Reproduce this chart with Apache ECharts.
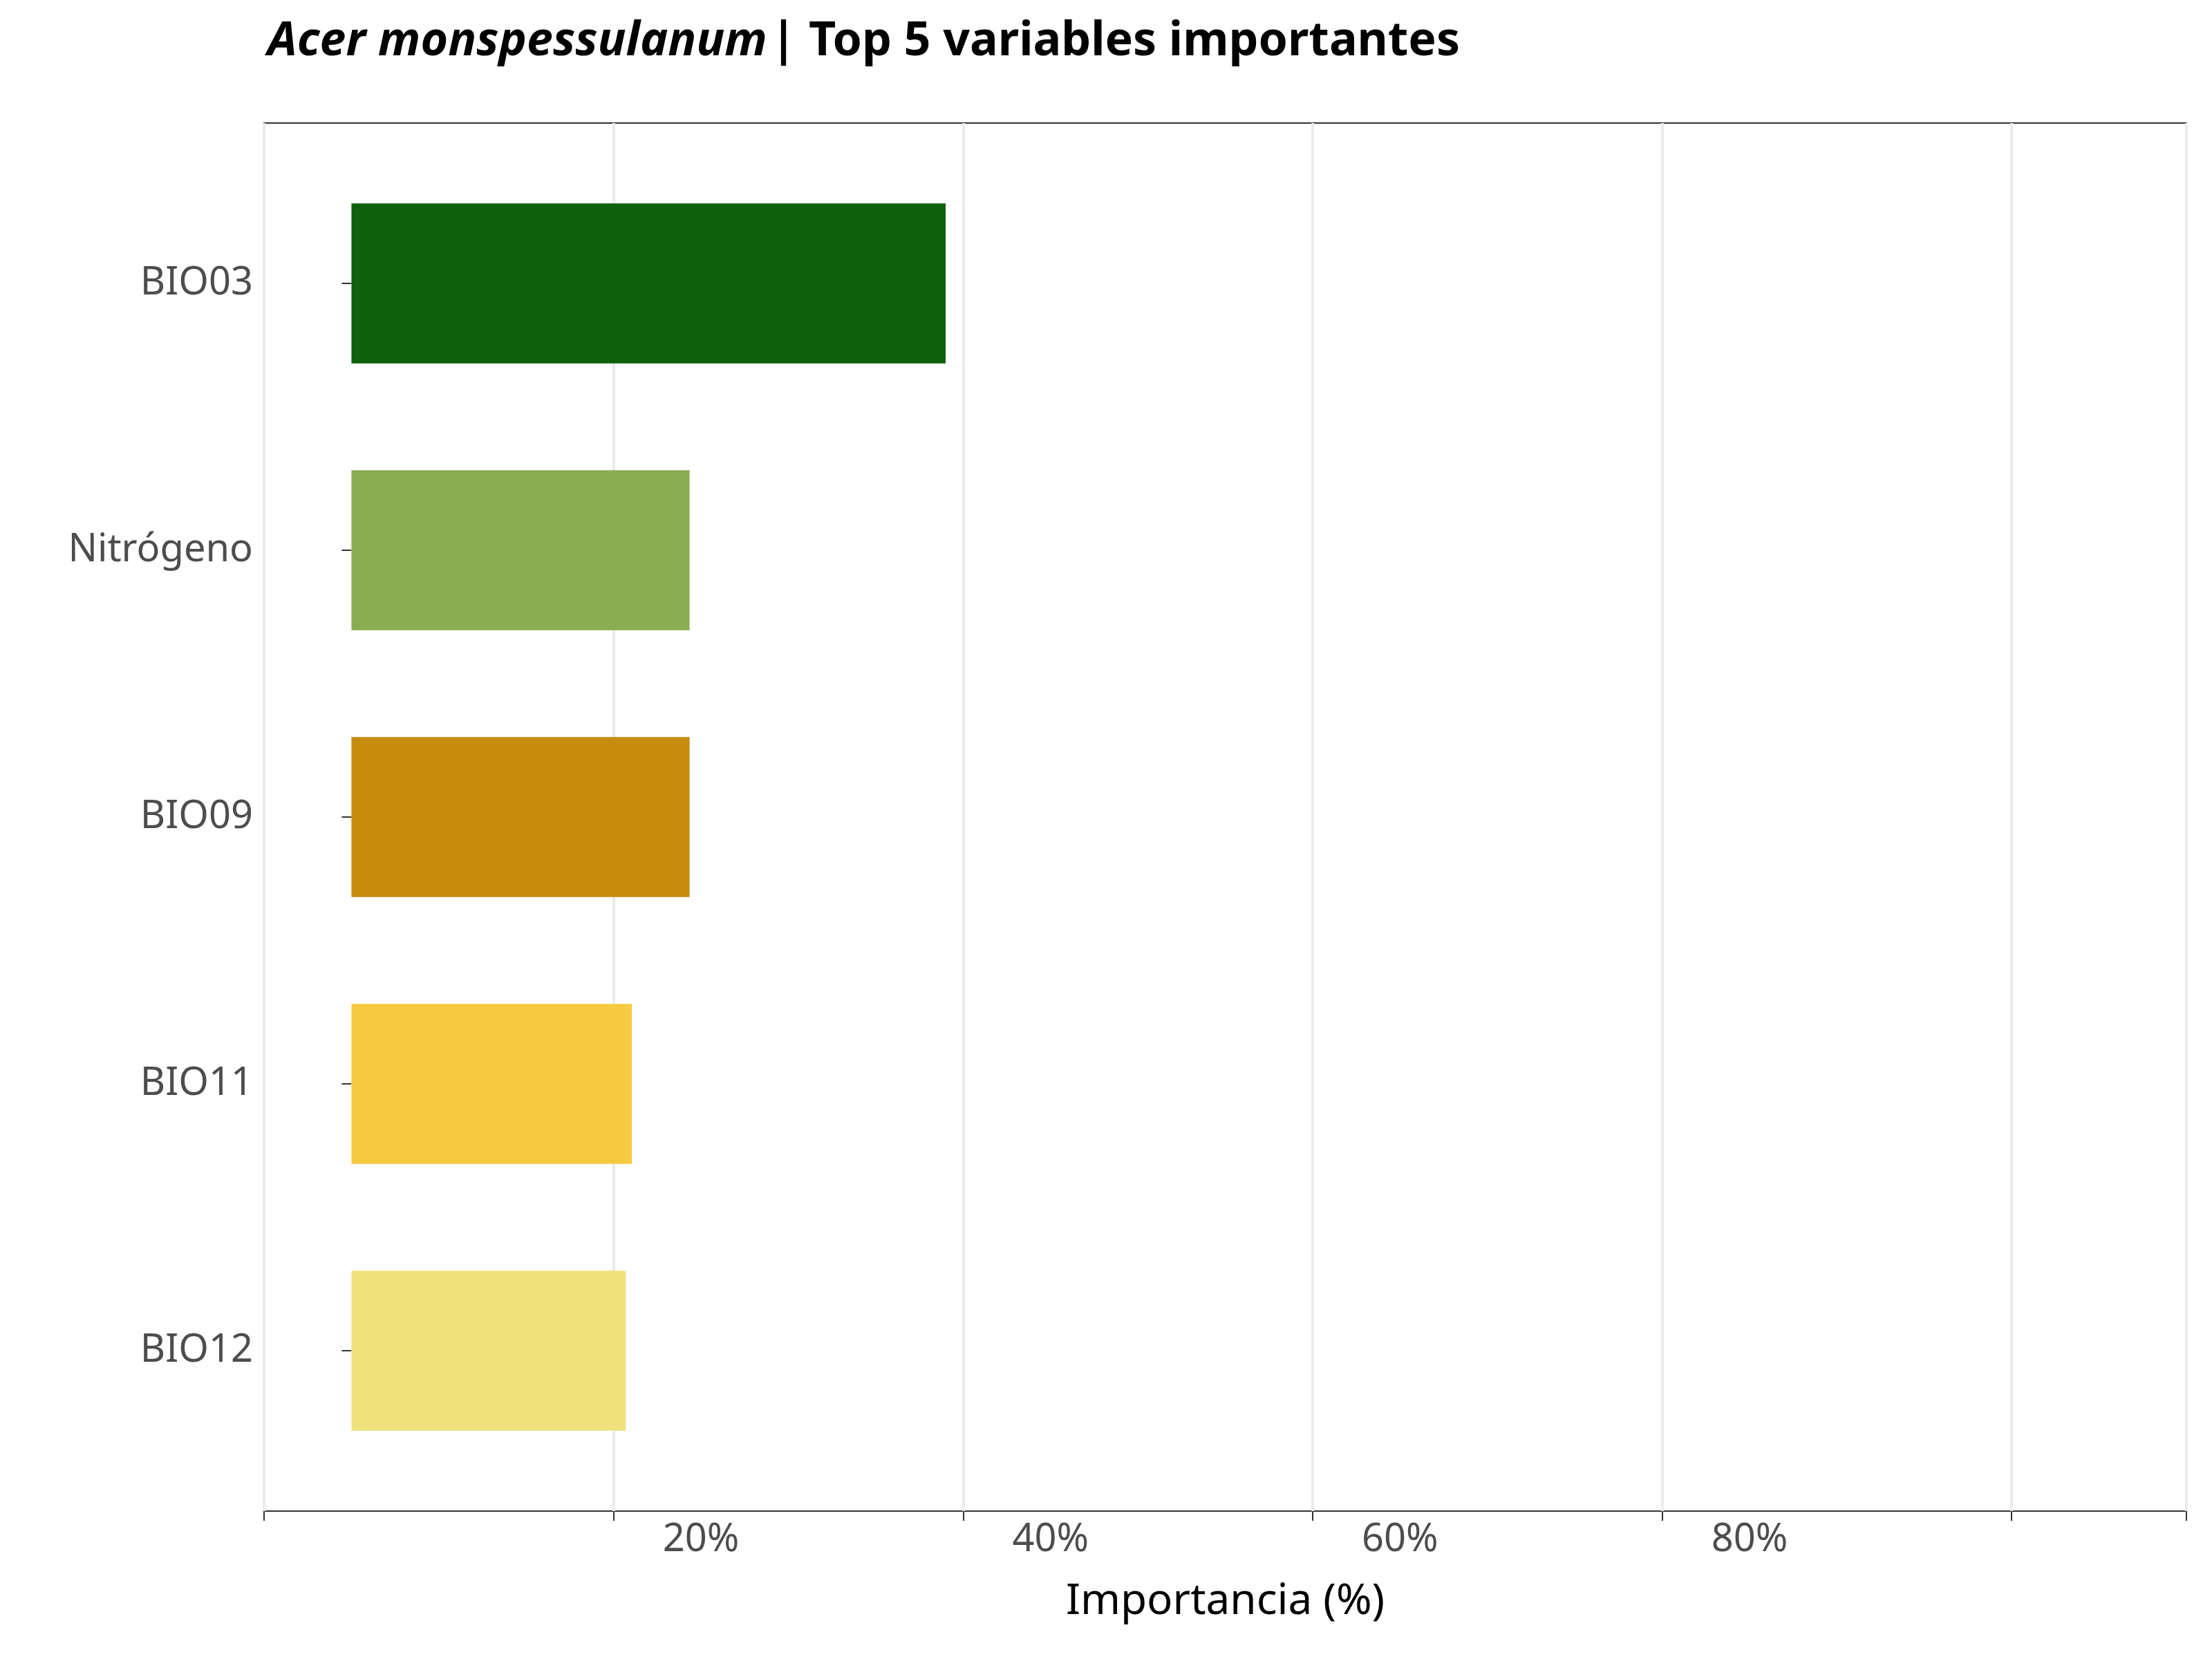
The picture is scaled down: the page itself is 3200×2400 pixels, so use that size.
<!DOCTYPE html>
<html><head><meta charset="utf-8">
<script src="https://cdn.jsdelivr.net/npm/echarts@6/dist/echarts.min.js"></script>
<style>html,body{margin:0;padding:0;background:#fff}#c{width:3200px;height:2400px}</style>
</head><body><div id="c"></div>
<script>
const categories = ['BIO03','Nitrógeno','BIO09','BIO11','BIO12'];
const values = [34.0, 19.35, 19.35, 16.05, 15.7];
const colors = ['#10600e','#8aad52','#c78b0d','#f6cb42','#efe27c'];
const xTicks = [0,20,40,60,80,100];

const L=382, R=37, T=178, B=214, inset=39;
const F='Noto Sans';
const chart = echarts.init(document.getElementById('c'));
chart.setOption({
  backgroundColor:'#fff',
  title:{left:L,top:22,text:'{i|Acer monspessulanum} {n|| Top 5 variables importantes}',
    textStyle:{rich:{i:{fontFamily:F,fontStyle:'italic',fontSize:68,color:'#000'},n:{fontFamily:F,fontSize:68,color:'#000'}}}},
  grid:[{left:L,right:R,top:T,bottom:B,show:true,borderColor:'#333',borderWidth:2,backgroundColor:'transparent'},
        {left:L,right:R,top:T+inset,bottom:B+inset}],
  xAxis:[{gridIndex:0,type:'value',min:-5,max:105,interval:20,
      axisLine:{show:false},axisTick:{show:true,length:14,lineStyle:{color:'#333',width:2}},
      axisLabel:{fontFamily:F,fontSize:56,color:'#4d4d4d',margin:14,formatter:v=>xTicks.includes(v)?v+'%':'' ,showMinLabel:false,showMaxLabel:false,customValues:xTicks},
      customValues:xTicks,
      splitLine:{show:true,lineStyle:{color:'#ebebeb',width:4}},
      name:'Importancia (%)',nameLocation:'middle',nameGap:100,nameTextStyle:{fontFamily:F,fontSize:62,color:'#000'}},
    {gridIndex:1,type:'value',min:-5,max:105,show:false}],
  yAxis:[{gridIndex:0,type:'value',min:0,max:1,show:false},
    {gridIndex:1,type:'category',data:categories,inverse:true,
      axisLine:{show:false},axisTick:{show:true,alignWithLabel:true,length:14,lineStyle:{color:'#333',width:2}},
      axisLabel:{fontFamily:F,fontSize:56,color:'#4d4d4d',margin:16}}],
  series:[{type:'bar',xAxisIndex:1,yAxisIndex:1,barWidth:'60%',
    data:values.map((v,i)=>({value:v,itemStyle:{color:colors[i]}}))}]
});
</script></body></html>
